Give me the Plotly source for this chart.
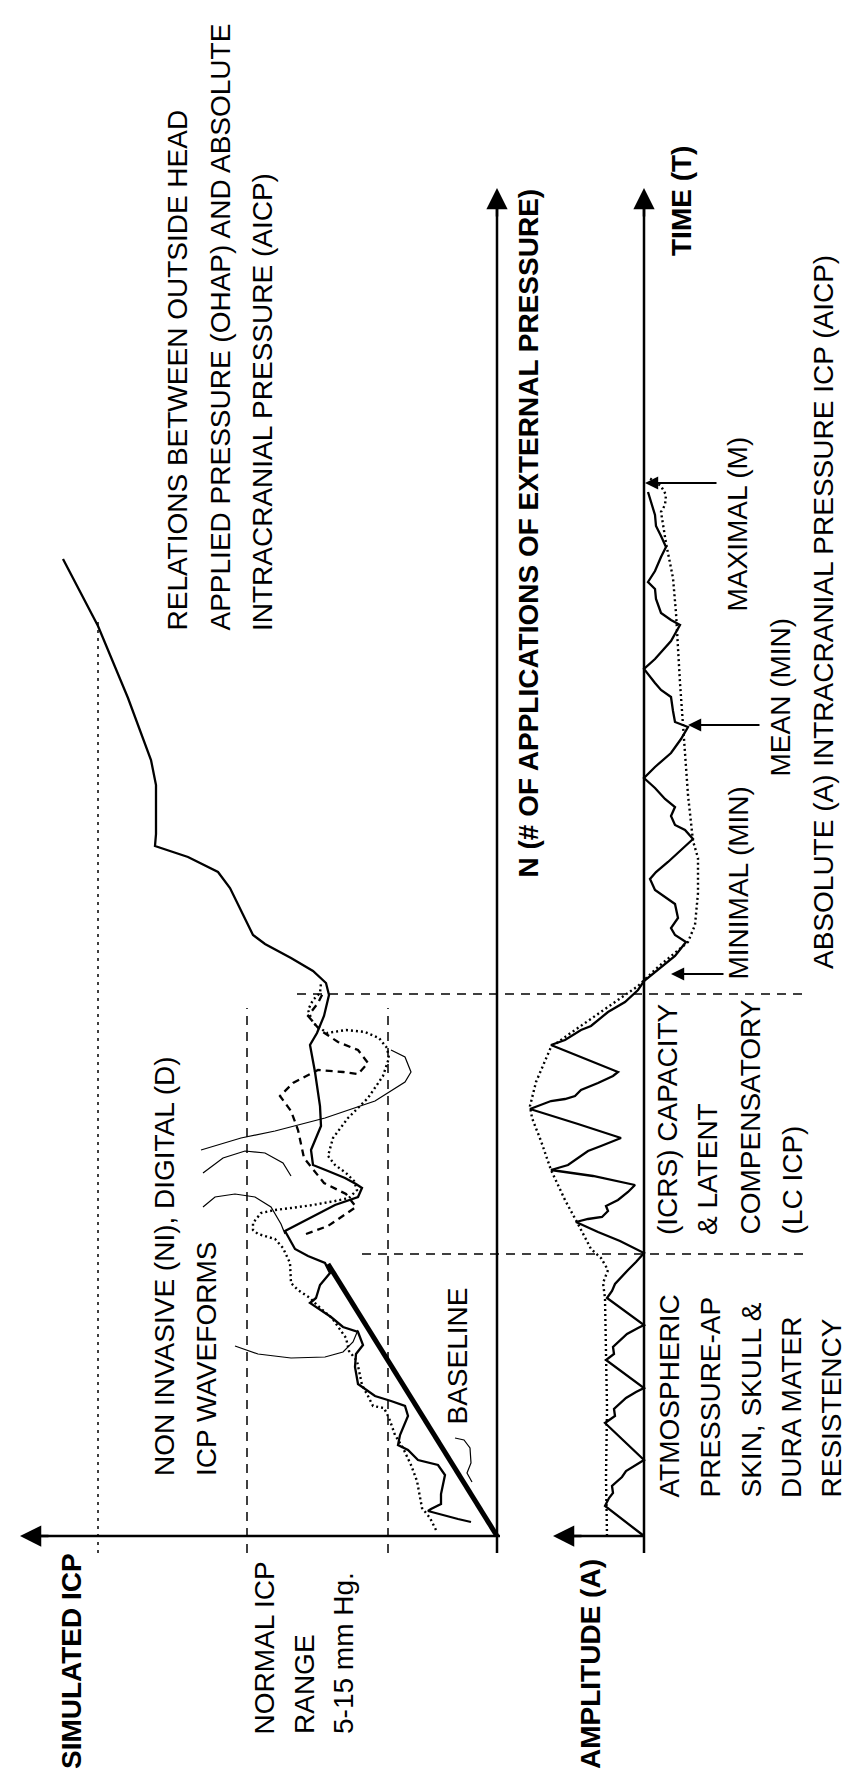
import plotly.graph_objects as go

# ---------------- DATA (arbitrary units measured from each origin) ----------------
# Left panel: simulated ICP (grows to the left) versus N (# of applications, grows upward)
ni_solid_icp = [26, 39, 69, 66, 56, 56, 52, 59, 79, 89, 99, 97, 89, 92, 106, 122, 139, 142, 141, 134,
                139, 154, 166, 176, 187, 181, 177, 167, 172, 189, 202, 212, 162, 139, 135, 141, 152, 169, 184, 186,
                176, 177, 182, 187, 180, 173, 168, 171, 184, 206, 232, 244, 255, 267, 279, 309, 342, 341, 341, 346,
                369, 399, 434]
ni_solid_n = [14, 17, 25, 27, 32, 42, 61, 71, 76, 86, 91, 101, 120, 130, 135, 140, 152, 169, 182, 191,
              204, 209, 219, 226, 233, 238, 251, 263, 273, 280, 287, 305, 331, 339, 348, 352, 358, 365, 371, 386,
              410, 430, 464, 491, 503, 520, 541, 553, 565, 578, 592, 601, 623, 648, 664, 679, 690, 702, 751, 776,
              838, 910, 977]

ni_dotted_icp = [61, 67, 75, 78, 80, 86, 94, 102, 108, 113, 124, 129, 135, 140, 148, 151, 165, 179, 187, 199,
                 206, 207, 214, 222, 239, 244, 244, 236, 222, 206, 184, 162, 148, 140, 143, 151, 162, 169, 164, 149,
                 129, 114, 108, 110, 118, 132, 151, 170, 184, 189, 184, 177, 176]
ni_dotted_n = [6, 18, 28, 43, 55, 71, 88, 101, 118, 128, 130, 140, 151, 175, 185, 198, 218, 230, 238, 246,
               253, 273, 288, 297, 302, 306, 313, 323, 326, 328, 331, 335, 338, 346, 355, 363, 371, 380, 398, 418,
               438, 460, 478, 488, 498, 504, 506, 503, 513, 526, 536, 543, 553]

d_dashed_icp = [191, 169, 141, 151, 173, 193, 199, 206, 217, 204, 179, 154, 139, 129, 139, 159, 177, 189, 179, 174]
d_dashed_n = [302, 310, 329, 342, 353, 378, 406, 425, 440, 453, 466, 464, 462, 473, 486, 494, 506, 520, 533, 543]

baseline_icp = [0, 169]
baseline_n = [0, 272]

# thin call-out curves
lead1_icp = [296, 256, 222, 172, 122, 92, 86, 92, 106]
lead1_n = [386, 398, 405, 418, 435, 454, 464, 479, 486]
lead2_icp = [294, 274, 252, 232, 214, 206]
lead2_n = [363, 378, 385, 383, 373, 360]
lead3_icp = [294, 282, 262, 242, 226, 216, 212]
lead3_n = [329, 339, 342, 339, 329, 312, 302]
lead4_icp = [262, 239, 206, 172, 154, 144, 139]
lead4_n = [190, 182, 178, 179, 184, 194, 206]
tilde_icp = [42, 33, 27, 26, 30, 25]
tilde_n = [98, 96, 88, 73, 63, 54]

# reference levels
icp_levels = [399, 250, 109]          # upper line, normal ICP range 15 / 5 mm Hg
icp_level_top = [915, 528, 528]
n_levels = [282, 542]                 # transitions between the three regimes
n_level_start = [135, 200]

# Right panel: amplitude (grows to the left) versus time (grows upward)
amp_solid_a = [0, 39, 35, 31, 32, 27, 22, 18, 6, 0, 39, 29, 30, 25, 18, 8, 0, 38, 30, 31, 25, 17, 6, 0,
               37, 32, 29, 22, 16, 8, 0, 24, 46, 68, 56, 42, 36, 38, 26, 16, 9, 51, 93, 76, 63, 56, 43, 36, 23,
               66, 114, 93, 79, 69, 63, 46, 31, 26, 61, 93, 79, 63, 53, 36, 19, 6, 0,
               -17, -31, -42, -31, -27, -34, -31, -21, -11, -6, -12, -24, -34, -49, -41, -31, -27, -31, -21, -11, 0,
               -11, -27, -37, -44, -31, -29, -27, -17, -11, 0,
               -11, -27, -36, -27, -17, -12, -11, -4, -11, -17, -22, -17, -12, -11, -8, -4]
amp_solid_t = [0, 30, 38, 43, 50, 55, 59, 65, 72, 76, 113, 120, 127, 132, 138, 144, 148, 176, 182, 189, 195, 202, 208, 211,
               238, 245, 252, 260, 266, 274, 283, 295, 304, 314, 317, 319, 325, 330, 336, 344, 351, 360, 366, 371, 380, 385, 390, 393, 398,
               412, 427, 435, 437, 440, 446, 453, 460, 464, 478, 491, 496, 506, 510, 524, 534, 546, 555,
               569, 580, 594, 601, 608, 618, 632, 639, 646, 657, 664, 674, 683, 697, 706, 711, 720, 729, 737, 748, 758,
               769, 783, 797, 809, 814, 825, 839, 846, 853, 867,
               877, 895, 911, 916, 923, 937, 947, 954, 965, 979, 989, 1000, 1010, 1021, 1031, 1044]

amp_env_a = [37, 38, 37, 38, 39, 41, 36, 43, 53, 66, 79, 93, 103, 112, 114, 108, 93, 69, 49, 29,
             6, -14, -31, -44, -51, -54, -54, -49, -44, -41, -36, -32, -29, -22, -17, -21, -22, -17, -4]
amp_env_t = [0, 58, 128, 198, 238, 253, 266, 278, 287, 312, 336, 366, 395, 418, 430, 454, 489, 506, 520, 534,
             550, 569, 583, 594, 611, 643, 678, 695, 741, 783, 853, 923, 958, 993, 1024, 1031, 1041, 1050, 1059]

# markers MINIMAL / MEAN / MAXIMAL : (arrow tip amplitude, tail amplitude, time)
mark_tip = [-27, -44, -1]
mark_tail = [-81, -117, -74]
mark_t = [562, 811, 1053]

# axis extents
icp_axis_len = 477
amp_axis_len = 91
n_axis_len = 1348
axis_tail = -17

# ---------------- FIGURE ----------------
W, H = 850, 1771
FONT = "Liberation Sans, Arial, sans-serif"
BLACK = "#000000"
DX = -6   # horizontal nudge for the rotated labels

fig = go.Figure()

def line(x, y, width=2, dash="solid", xaxis="x"):
    fig.add_trace(go.Scatter(x=x, y=y, mode="lines", xaxis=xaxis, yaxis="y",
                             line=dict(color=BLACK, width=width, dash=dash),
                             hoverinfo="skip", showlegend=False))

# reference levels (left panel)
for lv, top in zip(icp_levels, icp_level_top):
    line([lv, lv], [axis_tail, top], width=1.5, dash="3px,5px" if lv == icp_levels[0] else "9px,7px")
for nl, st in zip(n_levels, n_level_start):
    line([st, -307], [nl, nl], width=1.5, dash="9px,7px")

# axes (left)
line([-3, icp_axis_len - 10], [0, 0], width=2.5)
line([0, 0], [axis_tail, n_axis_len - 10], width=2.5)
# axes (right)
line([0, amp_axis_len - 10], [0, 0], width=2.5, xaxis="x2")
line([0, 0], [axis_tail, n_axis_len - 10], width=2.5, xaxis="x2")

# curves left
line(baseline_icp, baseline_n, width=5)
line(ni_solid_icp, ni_solid_n, width=2.3)
line(ni_dotted_icp, ni_dotted_n, width=2.4, dash="2px,3px")
line(d_dashed_icp, d_dashed_n, width=2.3, dash="7px,5px")
for lx, ly in [(lead1_icp, lead1_n), (lead2_icp, lead2_n), (lead3_icp, lead3_n),
               (lead4_icp, lead4_n), (tilde_icp, tilde_n)]:
    line(lx, ly, width=1.2)

# curves right
line(amp_solid_a, amp_solid_t, width=2.3, xaxis="x2")
line(amp_env_a, amp_env_t, width=2.4, dash="2px,3px", xaxis="x2")

annotations = []

def arrow(xh, yh, xt, yt, xref="x", size=2.0, width=2.5):
    annotations.append(dict(x=xh, y=yh, ax=xt, ay=yt, xref=xref, yref="y", axref=xref, ayref="y",
                            text="", showarrow=True, arrowhead=2, arrowsize=size, arrowwidth=width,
                            arrowcolor=BLACK, standoff=0, startstandoff=0))

arrow(icp_axis_len, 0, icp_axis_len - 30, 0, size=1.7)
arrow(0, n_axis_len, 0, n_axis_len - 30, size=1.7)
arrow(amp_axis_len, 0, amp_axis_len - 30, 0, xref="x2", size=1.7)
arrow(0, n_axis_len, 0, n_axis_len - 30, xref="x2", size=1.7)
for tip, tail, t in zip(mark_tip, mark_tail, mark_t):
    arrow(tip, t, tail, t, xref="x2", size=1.2, width=2.2)

def label(text, px, py_bottom, size=28, bold=False):
    annotations.append(dict(x=(px + DX) / W, y=1 - py_bottom / H, xref="paper", yref="paper",
                            text=("<b>%s</b>" % text) if bold else text, showarrow=False,
                            textangle=-90, xanchor="center", yanchor="bottom", borderpad=0,
                            font=dict(family=FONT, size=size, color=BLACK)))

label("SIMULATED ICP", 69, 1762, 28, True)
label("NORMAL ICP", 262, 1727)
label("RANGE", 302, 1727)
label("5-15 mm Hg.", 341, 1727)
label("NON INVASIVE (NI), DIGITAL (D)", 162, 1469)
label("ICP WAVEFORMS", 204, 1469)
label("BASELINE", 455, 1417)
label("RELATIONS BETWEEN OUTSIDE HEAD", 175, 624)
label("APPLIED PRESSURE (OHAP) AND ABSOLUTE", 218, 624)
label("INTRACRANIAL PRESSURE (AICP)", 260, 624)
label("N (# OF APPLICATIONS OF EXTERNAL PRESSURE)", 526, 871, 28, True)
label("TIME (T)", 679, 249, 28, True)
label("AMPLITUDE (A)", 588, 1762, 28, True)
for txt, px in zip(["ATMOSPHERIC", "PRESSURE-AP", "SKIN, SKULL &amp;", "DURA MATER", "RESISTENCY"],
                   [667, 708, 749, 789, 829]):
    label(txt, px, 1491)
for txt, px in zip(["(ICRS) CAPACITY", "&amp; LATENT", "COMPENSATORY", "(LC ICP)"],
                   [665, 705, 748, 790]):
    label(txt, px, 1228)
label("MINIMAL (MIN)", 736, 973)
label("MEAN (MIN)", 778, 770)
label("MAXIMAL (M)", 735, 605)
label("ABSOLUTE (A) INTRACRANIAL PRESSURE ICP (AICP)", 821, 962)

hidden = dict(visible=False, showgrid=False, zeroline=False, fixedrange=True)
fig.update_layout(
    width=W, height=H, margin=dict(l=0, r=0, t=0, b=0),
    paper_bgcolor="white", plot_bgcolor="white",
    xaxis=dict(domain=[0, 1], range=[489, 489 - W], **hidden),
    xaxis2=dict(domain=[0, 1], range=[636, 636 - W], overlaying="x", **hidden),
    yaxis=dict(domain=[0, 1], range=[1528 - H, 1528], **hidden),
    annotations=annotations,
    showlegend=False,
)

fig.write_html("out.html")
